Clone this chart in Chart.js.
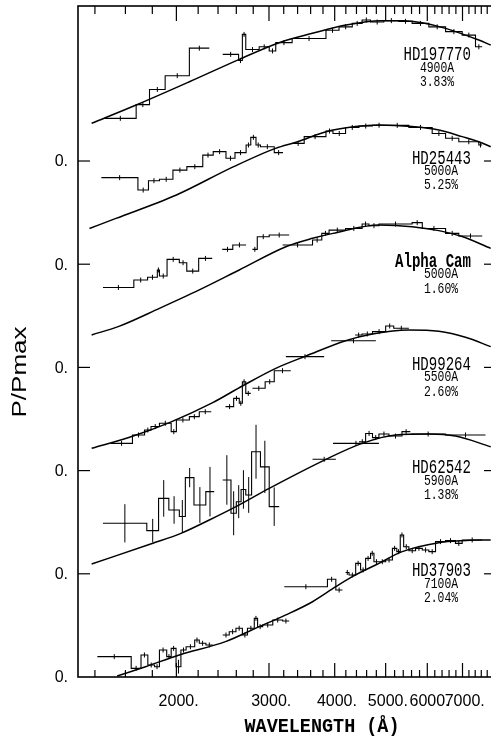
<!DOCTYPE html>
<html><head><meta charset="utf-8">
<script src="https://cdn.jsdelivr.net/npm/chart.js@4/dist/chart.umd.min.js"></script>
<style>html,body{margin:0;padding:0;background:#fff;overflow:hidden;width:491px;height:742px}canvas{display:block}</style>
</head><body><canvas id="c" width="500" height="742"></canvas>
<script>
// ---- data (wavelength in Angstrom, P/Pmax) ----
const starNames = ['HD197770','HD25443','Alpha Cam','HD99264','HD62542','HD37903'];
const lambdaMaxText = ['4900A','5000A','5000A','5500A','5900A','7100A'];
const pMaxText = ['3.83%','5.25%','1.60%','2.60%','1.38%','2.04%'];
const offsets = [3.75, 3.0, 2.25, 1.5, 0.75, 0];
const xMajorTicks = [2000,3000,4000,5000,6000,7000];
const xMinorTicks = [1400,1600,1800,2200,2400,2600,2800,3200,3400,3600,3800,4200,4400,4600,4800,5200,5400,5600,5800,6200,6400,6600,6800,7200,7400,7600,7800];
const yTickValues = [0, 0.75, 1.5, 2.25, 3.0, 3.75];
const yTickLabel = '0.';

// fitted curves [lambda, P/Pmax]
const fitHD197770 = [[1380,0.274],[1677,0.407],[2117,0.576],[2634,0.739],[3136,0.86],[3628,0.928],[4198,0.988],[4900,1.02],[5400,1.02],[5868,1.005],[6500,0.964],[7516,0.879],[7920,0.843]];
const fitHD25443 = [[1367,0.26],[1535,0.333],[2000,0.503],[2570,0.709],[3088,0.842],[3400,0.89],[3850,0.963],[4375,1.0],[4855,1.012],[5614,1.0],[6311,0.975],[6990,0.927],[7517,0.89],[7920,0.854]];
const fitAlphaCam = [[1380,0.236],[1559,0.30],[1857,0.429],[2211,0.563],[2634,0.708],[3230,0.877],[3630,0.938],[3970,0.974],[4855,1.035],[5614,1.023],[6311,0.994],[6990,0.951],[7920,0.865]];
const fitHD99264 = [[1380,0.162],[1629,0.242],[1940,0.349],[2345,0.494],[2670,0.615],[3090,0.743],[3530,0.833],[4195,0.944],[4720,0.993],[5535,1.022],[6311,1.012],[7090,0.969],[7920,0.901]];
const fitHD62542 = [[1380,0.071],[1804,0.222],[2040,0.294],[2310,0.391],[2596,0.488],[3003,0.621],[3850,0.832],[4510,0.948],[5222,1.009],[6041,1.016],[6787,1.001],[7920,0.924]];
const fitHD37903 = [[1543,0.007],[1747,0.075],[2026,0.16],[2480,0.257],[2874,0.366],[3230,0.451],[3630,0.547],[4020,0.656],[4320,0.729],[4855,0.826],[5375,0.911],[6311,0.976],[6990,0.991],[7920,0.996]];

// measured bins [lambdaLow, lambdaHigh, P/Pmax, error]
const binsHD197770 = [[1460,1677,0.31],[1677,1778,0.41],[1778,1904,0.52],[1904,2117,0.62],[2117,2310,0.82],
 [2450,2626,0.775],[2626,2670,0.73],[2670,2710,0.92],[2710,2874,0.81],[2874,3003,0.83],[3003,3090,0.80],[3090,3320,0.86],[3320,3850,0.89],[3850,4077,0.95],[4077,4320,0.975],[4320,4510,1.00],[4510,4680,1.025],[4680,4960,1.01],[4960,5298,1.02],[5298,5614,1.015],[5614,6041,1.00],[6041,6500,0.975],[6500,6990,0.94],[6990,7410,0.915],[7410,7630,0.83]];
const binsHD25443 = [[1440,1690,0.629],[1690,1770,0.539],[1770,1857,0.607],[1857,1970,0.617],[1970,2094,0.684],[2094,2245,0.709],[2245,2350,0.793],[2350,2485,0.818],[2485,2585,0.77],[2585,2714,0.811],[2714,2770,0.866],[2770,2834,0.922],[2834,2890,0.866],[2890,3070,0.854],[3070,3190,0.811],
 [3320,3500,0.878],[3500,3850,0.927],[3850,3970,0.968],[3970,4195,0.95],[4195,4449,0.994],[4449,4720,1.004],[4720,5000,1.01],[5000,5535,1.009],[5535,6130,0.994],[6130,6500,0.95],[6500,6887,0.915],[6887,7517,0.89],[7517,7630,0.866]];
const binsAlphaCam = [[1450,1660,0.581],[1660,1763,0.635],[1763,1840,0.655],[1840,1857,0.708],[1857,1920,0.664],[1920,2026,0.785],[2026,2093,0.761],[2093,2205,0.70],[2205,2340,0.792],
 [2445,2560,0.858],[2560,2714,0.89],
 [2790,2850,0.858],[2850,3003,0.95],[3003,3277,0.962],
 [3185,3630,0.89],[3630,3780,0.926],[3780,3903,0.974],[3903,4195,0.998],[4195,4510,1.01],[4510,4648,1.042],[4648,4855,1.03],[4855,5614,1.042],[5614,5870,1.052],[5870,6500,1.01],[6500,6887,0.974],[6887,7630,0.955]];
const binsHD99264 = [[1500,1650,0.198],[1650,1740,0.259],[1740,1790,0.295],[1790,1857,0.32],[1857,1955,0.344],[1955,2000,0.283],[2000,2117,0.368],[2117,2211,0.392],[2211,2330,0.428],
 [2480,2570,0.465],[2570,2634,0.525],[2634,2670,0.489],[2670,2710,0.646],[2710,2770,0.561],
 [2790,2950,0.598],[2950,3070,0.646],[3070,3300,0.726],
 [3230,3820,0.828],
 [3940,4790,0.944],
 [4375,4510,0.985],[4510,4720,0.993],[4720,5000,1.01],[5000,5180,1.051],[5180,5535,1.034]];
const binsHD62542 = [[1450,1757,0.367,0.139],[1757,1850,0.314,0.085],[1850,1935,0.548,0.133],[1935,2026,0.464,0.10],[2026,2080,0.416,0.12],[2080,2160,0.699,0.07],[2160,2275,0.50,0.13],[2275,2360,0.597,0.18],
 [2450,2540,0.682,0.18],[2540,2600,0.44,0.16],[2600,2655,0.524,0.12],[2655,2710,0.613,0.14],[2710,2780,0.573,0.13],[2780,2890,0.887,0.196],[2890,3003,0.777,0.19],[3003,3137,0.488,0.14],
 [3630,4020,0.832],
 [3970,4855,0.948],
 [4449,4580,0.96],[4580,4720,1.02],[4720,4855,0.99],[4855,5073,1.016],[5073,5370,1.001],[5370,5570,1.033],
 [5580,6500,1.016],[6500,7740,1.009]];
const binsHD37903 = [[1415,1641,0.148],[1641,1713,0.063],[1713,1765,0.16],[1765,1818,0.087],[1818,1857,0.075],[1857,1917,0.196],[1917,1955,0.148],[1955,1997,0.208],[1997,2040,0.075,0.05],[2040,2087,0.196],[2087,2167,0.22],[2167,2211,0.269],[2211,2276,0.245],[2276,2345,0.233],
 [2450,2521,0.305],[2521,2596,0.329],[2596,2670,0.354],[2670,2730,0.305],[2730,2813,0.354],[2813,2854,0.426],[2854,2918,0.366],[2918,3050,0.378],[3050,3185,0.414],[3185,3277,0.407],
 [3208,3875,0.656],[3875,4020,0.71],[4020,4138,0.632],
 [4195,4259,0.76],[4259,4385,0.741],[4385,4480,0.826],[4480,4580,0.778],[4580,4680,0.862],[4680,4750,0.899],[4750,4855,0.838],[4855,5000,0.838],[5000,5150,0.85],[5150,5250,0.935],[5250,5330,0.911],[5330,5410,1.032],[5410,5535,0.947],[5535,5700,0.918],[5700,5870,0.935],[5870,6041,0.923],[6041,6220,0.911],[6220,6500,0.984],[6500,6787,0.991],[6787,6990,0.971],[6990,7630,0.996]];

const fits = [fitHD197770, fitHD25443, fitAlphaCam, fitHD99264, fitHD62542, fitHD37903];
const bins = [binsHD197770, binsHD25443, binsAlphaCam, binsHD99264, binsHD62542, binsHD37903];

// ---- datasets built from the arrays ----
const datasets = [];
starNames.forEach((name, i) => {
  const off = offsets[i];
  datasets.push({ label: name + ' fit', data: fits[i].map(([x, v]) => ({ x, y: v + off })),
    borderColor: '#000', borderWidth: 1.5, pointRadius: 0, cubicInterpolationMode: 'monotone', fill: false });
  const pts = []; let prevHi = null;
  bins[i].forEach(([lo, hi, v]) => {
    if (prevHi !== null && Math.abs(lo - prevHi) > 1) pts.push({ x: lo, y: null });
    pts.push({ x: lo, y: v + off }, { x: hi, y: v + off });
    prevHi = hi;
  });
  datasets.push({ label: name, data: pts, borderColor: '#000', borderWidth: 1.1, pointRadius: 0, spanGaps: false, tension: 0, fill: false });
});

function line(ctx, x1, y1, x2, y2) { ctx.beginPath(); ctx.moveTo(x1, y1); ctx.lineTo(x2, y2); ctx.stroke(); }
function text(ctx, s, x, y, font, align, sx, fitW) {
  ctx.save(); ctx.font = font; ctx.textBaseline = 'middle';
  const w = ctx.measureText(s).width;
  const k = fitW ? fitW / w : (sx || 1);
  const ww = w * k;
  let x0 = align === 'center' ? x - ww / 2 : align === 'right' ? x - ww : x;
  ctx.translate(x0, y); ctx.scale(k, 1); ctx.textAlign = 'left'; ctx.fillText(s, 0, 0);
  ctx.restore();
}

const decor = {
  id: 'decor',
  afterDatasetsDraw(chart) {
    const ctx = chart.ctx, xs = chart.scales.x, ys = chart.scales.y, a = chart.chartArea;
    ctx.save(); ctx.strokeStyle = '#000'; ctx.fillStyle = '#000';
    // markers / error bars at bin centres
    ctx.lineWidth = 1;
    bins.forEach((bl, i) => {
      const off = offsets[i];
      bl.forEach(([lo, hi, v, err]) => {
        const cx = (xs.getPixelForValue(lo) + xs.getPixelForValue(hi)) / 2;
        const cy = ys.getPixelForValue(v + off);
        const e = err ? ys.getPixelForValue(off) - ys.getPixelForValue(off + err) : 2.5;
        line(ctx, cx, Math.max(a.top, cy - e), cx, Math.min(a.bottom, cy + e));
      });
    });
    // frame
    ctx.lineWidth = 1.6;
    ctx.strokeRect(a.left, a.top, a.right - a.left, a.bottom - a.top);
    // x ticks (inward, top and bottom)
    ctx.lineWidth = 1.2;
    xMajorTicks.forEach(t => { const p = xs.getPixelForValue(t); line(ctx, p, a.bottom, p, a.bottom - 14); line(ctx, p, a.top, p, a.top + 15); });
    xMinorTicks.forEach(t => { const p = xs.getPixelForValue(t); line(ctx, p, a.bottom, p, a.bottom - 7); line(ctx, p, a.top, p, a.top + 8); });
    // y ticks
    yTickValues.forEach(v => {
      const p = ys.getPixelForValue(v);
      if (v > 0) { line(ctx, a.left, p, a.left + 12, p); line(ctx, a.right - 9, p, a.right, p); }
      text(ctx, yTickLabel, a.left - 10, p + 1, '16px "Liberation Sans"', 'right');
    });
    // x tick labels
    ctx.font = '16px "Liberation Sans"';
    xMajorTicks.forEach(t => {
      const p = xs.getPixelForValue(t);
      const w = ctx.measureText(String(t)).width;
      text(ctx, t + '.', p - w / 2, 702, '16px "Liberation Sans"', 'left');
    });
    // axis titles
    text(ctx, 'WAVELENGTH (\u00C5)', 322, 727, 'bold 20px "Liberation Mono"', 'center', null, 155);
    ctx.save(); ctx.translate(20, 372); ctx.rotate(-Math.PI / 2);
    text(ctx, 'P/Pmax', 0, 0, '21px "Liberation Sans"', 'center', null, 91);
    ctx.restore();
    // star labels
    starNames.forEach((name, i) => {
      const ref = ys.getPixelForValue(offsets[i] + 0.75);
      const cx = i === 0 ? 437 : 441;
      text(ctx, name, 471, ref - 3, (i === 2 ? 'bold ' : '') + '21px "Liberation Mono"', 'right', 0.67);
      text(ctx, lambdaMaxText[i], cx, ref + 10, '15px "Liberation Mono"', 'center', 0.76);
      text(ctx, pMaxText[i], cx, ref + 24.5, '15px "Liberation Mono"', 'center', 0.76);
    });
    ctx.restore();
  }
};

new Chart(document.getElementById('c'), {
  type: 'line',
  data: { datasets },
  options: {
    responsive: false, animation: false, devicePixelRatio: 1, events: [],
    layout: { padding: { left: 78, top: 6, right: 7, bottom: 65 } },
    plugins: { legend: { display: false }, tooltip: { enabled: false } },
    scales: {
      x: { type: 'logarithmic', min: 1300, max: 8000, display: false },
      y: { type: 'linear', min: 0, max: 4.8765, display: false }
    }
  },
  plugins: [decor]
});
</script></body></html>
